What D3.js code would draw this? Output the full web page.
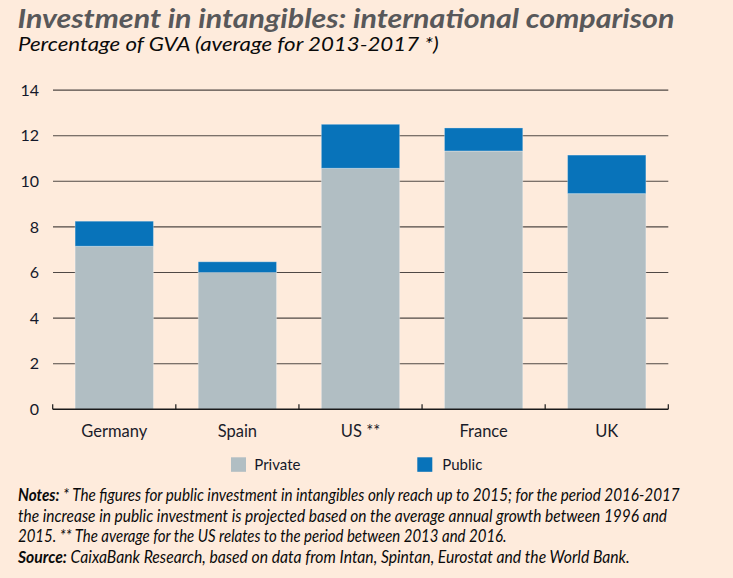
<!DOCTYPE html>
<html>
<head>
<meta charset="utf-8">
<script src="https://cdn.jsdelivr.net/npm/d3@7"></script>
<style>
  html, body { margin: 0; padding: 0; background: #feebdc; }
  svg { display: block; }
  text { font-family: Lato, "Open Sans", sans-serif; }
</style>
</head>
<body>
<svg id="chart" width="733" height="578"></svg>
<script>
const categories = ["Germany", "Spain", "US **", "France", "UK"];
const privateValues = [7.15, 6.0, 10.57, 11.33, 9.46];
const publicValues = [1.1, 0.47, 1.93, 1.01, 1.69];
const seriesNames = ["Private", "Public"];
const yTicks = [0, 2, 4, 6, 8, 10, 12, 14];
const colors = { Private: "#b1bec3", Public: "#0873ba" };

const svg = d3.select("#chart");
svg.append("rect").attr("width", 733).attr("height", 578).attr("fill", "#feebdc");

const data = categories.map((c, i) => ({ cat: c, Private: privateValues[i], Public: publicValues[i] }));
const stacked = d3.stack().keys(seriesNames)(data);

const x = d3.scaleBand().domain(categories).range([52.7, 668.3]).paddingInner(0.364).paddingOuter(0.182);
const y = d3.scaleLinear().domain([0, 14]).range([409.3, 90.1]);

// gridlines
svg.append("g").selectAll("line").data(yTicks.filter(d => d > 0)).join("line")
  .attr("x1", 53).attr("x2", 668.3)
  .attr("y1", d => y(d)).attr("y2", d => y(d))
  .attr("stroke", "#4f4845").attr("stroke-width", 1.1);

// y labels
svg.append("g").selectAll("text").data(yTicks).join("text")
  .attr("x", 39).attr("y", d => y(d)).attr("dy", "0.35em")
  .attr("text-anchor", "end").attr("font-size", 16).attr("fill", "#14182a")
  .text(d => d);

// bars
svg.append("g").selectAll("g").data(stacked).join("g")
  .attr("fill", d => colors[d.key])
  .selectAll("rect").data(d => d).join("rect")
  .attr("x", d => x(d.data.cat))
  .attr("width", x.bandwidth())
  .attr("y", d => y(d[1]))
  .attr("height", d => y(d[0]) - y(d[1]))
  .attr("stroke", "rgba(255,255,255,0.3)").attr("stroke-width", 1);

// x axis baseline with ticks between bands
const xAxis = d3.axisBottom(x).tickSize(0).tickSizeOuter(0).tickPadding(0);
const gx = svg.append("g").attr("transform", `translate(0,${y(0)})`);
gx.append("line").attr("x1", 52.7).attr("x2", 668.3).attr("y1", 0).attr("y2", 0)
  .attr("stroke", "#1a1a1a").attr("stroke-width", 1.5);
const bounds = categories.map(c => x(c) - x.step() * x.paddingInner() / 2).concat([668.3]);
bounds[0] = 52.7;
gx.selectAll("line.tick").data(bounds).join("line").attr("class", "tick")
  .attr("x1", d => d).attr("x2", d => d).attr("y1", 0).attr("y2", -5)
  .attr("stroke", "#1a1a1a").attr("stroke-width", 1.2);
const gLabels = svg.append("g").attr("transform", `translate(0,${y(0)})`).call(xAxis);
gLabels.select(".domain").remove();
gLabels.selectAll("text").attr("y", 27.4).attr("dy", 0)
  .attr("font-size", 16.5).attr("fill", "#1a1c2a").attr("font-family", "Lato, sans-serif");

// legend
const legendItems = [
  { name: "Private", sx: 231, tx: 254.3 },
  { name: "Public", sx: 417.3, tx: 442.3 }
];
const lg = svg.append("g");
lg.selectAll("rect").data(legendItems).join("rect")
  .attr("x", d => d.sx).attr("y", 457.3).attr("width", 15).attr("height", 14.5)
  .attr("fill", d => colors[d.name]);
lg.selectAll("text").data(legendItems).join("text")
  .attr("x", d => d.tx).attr("y", 470).attr("font-size", 15).attr("fill", "#14182a")
  .text(d => d.name);

// helper: text squeezed horizontally to a target width
function fitText(parts, px, py, size, target, fill, weight) {
  const t = svg.append("text").attr("x", 0).attr("y", 0)
    .attr("font-size", size).attr("font-style", "italic").attr("fill", fill)
    .attr("font-weight", weight || "normal");
  parts.forEach(p => t.append("tspan").attr("font-weight", p.bold ? "bold" : null).text(p.text));
  const w = t.node().getComputedTextLength();
  const s = target / w;
  t.attr("transform", `translate(${px},${py}) scale(${s},1)`);
  return t;
}

// title & subtitle
fitText([{ text: "Investment in intangibles: international comparison" }], 17.5, 27.5, 27, 657, "#58585a", "bold");
fitText([{ text: "Percentage of GVA (average for 2013-2017 *)" }], 18, 51, 18.5, 421, "#0a0a0a");

// notes
const noteLines = [
  { bold: "Notes:", rest: " * The figures for public investment in intangibles only reach up to 2015; for the period 2016-2017", y: 501, len: 662 },
  { bold: "", rest: "the increase in public investment is projected based on the average annual growth between 1996 and", y: 521.5, len: 649.5 },
  { bold: "", rest: "2015. ** The average for the US relates to the period between 2013 and 2016.", y: 542, len: 489 },
  { bold: "Source:", rest: " CaixaBank Research, based on data from Intan, Spintan, Eurostat and the World Bank.", y: 562.5, len: 612 }
];
noteLines.forEach(l => {
  const parts = [];
  if (l.bold) parts.push({ text: l.bold, bold: true });
  parts.push({ text: l.rest });
  fitText(parts, 18, l.y, 16.5, l.len, "#0a0a0a");
});
</script>
</body>
</html>
